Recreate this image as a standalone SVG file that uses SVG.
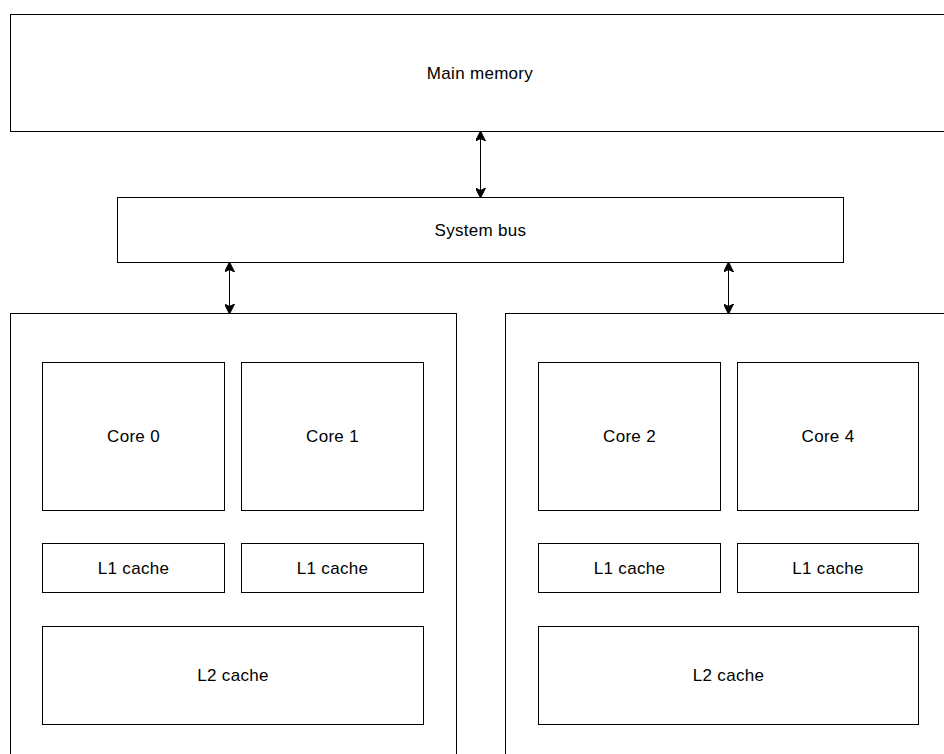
<svg xmlns="http://www.w3.org/2000/svg" width="944" height="754" viewBox="0 0 944 754">
<style>
.box{fill:#fff;stroke:#000;stroke-width:1}
.lbl{font-family:"Liberation Sans",Arial,sans-serif;font-size:17px;letter-spacing:0.3px;fill:#000;text-anchor:middle;dominant-baseline:central}
.conn{stroke:#000;stroke-width:1;fill:none;marker-start:url(#ah);marker-end:url(#ah)}
</style>
<defs>
<marker id="ah" viewBox="0 0 10 10" refX="9" refY="5" markerWidth="10" markerHeight="10" markerUnits="userSpaceOnUse" orient="auto-start-reverse">
<path d="M0,0 L10,5 L0,10 L2.5,5 Z" fill="#000" stroke="#000" stroke-width="1"/>
</marker>
</defs>
<rect width="944" height="754" fill="#fff"/>
<g id="main-memory"><rect class="box" x="10.5" y="14.5" width="940" height="117"/><text class="lbl" x="480" y="73">Main memory</text></g>
<g id="system-bus"><rect class="box" x="117.5" y="197.5" width="726" height="65"/><text class="lbl" x="480.5" y="230">System bus</text></g>
<g id="cpu-0"><rect class="box" x="10.5" y="313.5" width="446" height="460"/></g>
<g id="cpu-1"><rect class="box" x="505.5" y="313.5" width="446" height="460"/></g>
<g id="core-0"><rect class="box" x="42.5" y="362.5" width="182" height="148"/><text class="lbl" x="133.5" y="436.5">Core 0</text></g>
<g id="core-1"><rect class="box" x="241.5" y="362.5" width="182" height="148"/><text class="lbl" x="332.5" y="436.5">Core 1</text></g>
<g id="l1-0"><rect class="box" x="42.5" y="543.5" width="182" height="49"/><text class="lbl" x="133.5" y="568">L1 cache</text></g>
<g id="l1-1"><rect class="box" x="241.5" y="543.5" width="182" height="49"/><text class="lbl" x="332.5" y="568">L1 cache</text></g>
<g id="l2-0"><rect class="box" x="42.5" y="626.5" width="381" height="98"/><text class="lbl" x="233" y="675.5">L2 cache</text></g>
<g id="core-2"><rect class="box" x="538.5" y="362.5" width="182" height="148"/><text class="lbl" x="629.5" y="436.5">Core 2</text></g>
<g id="core-4"><rect class="box" x="737.5" y="362.5" width="181" height="148"/><text class="lbl" x="828" y="436.5">Core 4</text></g>
<g id="l1-2"><rect class="box" x="538.5" y="543.5" width="182" height="49"/><text class="lbl" x="629.5" y="568">L1 cache</text></g>
<g id="l1-3"><rect class="box" x="737.5" y="543.5" width="181" height="49"/><text class="lbl" x="828" y="568">L1 cache</text></g>
<g id="l2-1"><rect class="box" x="538.5" y="626.5" width="380" height="98"/><text class="lbl" x="728.5" y="675.5">L2 cache</text></g>
<g id="connectors">
<line class="conn" x1="480.5" y1="132" x2="480.5" y2="197"/>
<line class="conn" x1="229.5" y1="263" x2="229.5" y2="313"/>
<line class="conn" x1="728.5" y1="263" x2="728.5" y2="313"/>
</g>
</svg>
